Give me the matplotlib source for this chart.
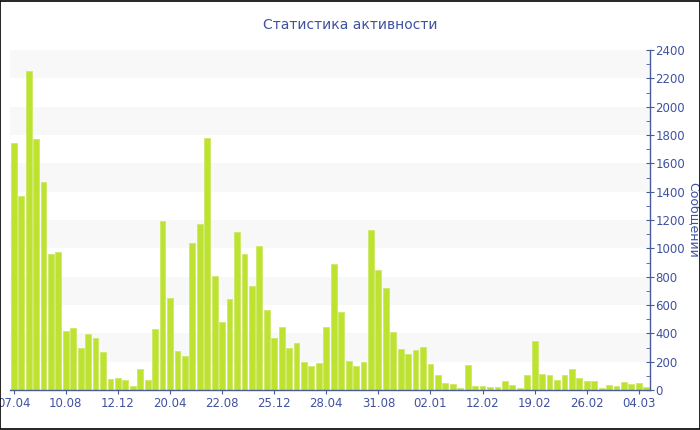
import numpy as np
import matplotlib
matplotlib.use("Agg")
import matplotlib.pyplot as plt
from matplotlib.patches import Rectangle

# данные: сообщений по периодам
values = [1744, 1367, 2250, 1774, 1466, 962, 974, 414, 440, 296,
          395, 365, 266, 78, 82, 68, 30, 150, 73, 433,
          1191, 652, 275, 238, 1040, 1174, 1779, 805, 478, 640,
          1113, 962, 734, 1017, 565, 367, 443, 296, 330, 195,
          172, 191, 447, 892, 551, 207, 167, 195, 1132, 845,
          720, 407, 292, 254, 282, 301, 186, 104, 47, 45,
          16, 174, 26, 30, 21, 23, 64, 35, 13, 106,
          344, 113, 104, 71, 104, 148, 85, 61, 61, 14,
          33, 28, 59, 40, 47, 19]
tick_labels = ["07.04", "10.08", "12.12", "20.04", "22.08", "25.12", "28.04",
               "31.08", "02.01", "12.02", "19.02", "26.02", "04.03"]
title = "Статистика активности"
ylabel = "Сообщений"

axis_col = "#4a5b9c"
text_col = "#3f52a0"
bar_col = "#bde22f"

fig = plt.figure(figsize=(7, 4.3), dpi=100)
ax = fig.add_axes([10 / 700, 40 / 430, 640 / 700, 340 / 430])

# полосы фона
for lo in range(200, 2400, 400):
    ax.axhspan(lo, lo + 200, color="#f8f8f8", zorder=0, lw=0)

x = np.arange(len(values))
ax.bar(x, values, width=0.78, color=bar_col, edgecolor="#cde86a", linewidth=0.6, zorder=2)

ax.set_xlim(-0.5, len(values) - 0.5)
ax.set_ylim(0, 2400)

ax.set_xticks(x[::7])
ax.set_xticklabels(tick_labels)
ax.set_yticks(np.arange(0, 2401, 200))
ax.set_yticks(np.arange(0, 2401, 100), minor=True)

ax.yaxis.tick_right()
ax.yaxis.set_label_position("right")
for s in ["top", "left"]:
    ax.spines[s].set_visible(False)
for s in ["right", "bottom"]:
    ax.spines[s].set_color(axis_col)
    ax.spines[s].set_linewidth(1)

ax.tick_params(axis="x", colors=axis_col, labelcolor=text_col, labelsize=8.5, length=3, pad=2)
ax.tick_params(axis="y", which="major", colors=axis_col, labelcolor=text_col, labelsize=8.5,
               length=6, direction="inout", pad=1)
ax.tick_params(axis="y", which="minor", colors=axis_col, length=3, direction="in")

ax.set_ylabel(ylabel, rotation=270, color=text_col, fontsize=9, va="center", ha="center")
ax.yaxis.set_label_coords(683 / 640, 0.5)

fig.text(0.5, 1 - 25 / 430, title, ha="center", va="center", color=text_col, fontsize=10)

# рамка
fig.patches.append(Rectangle((0.0007, 0.0012), 0.9986, 0.9976, transform=fig.transFigure,
                             fill=False, edgecolor="black", linewidth=1.2))

fig.savefig("out.png", dpi=100)
